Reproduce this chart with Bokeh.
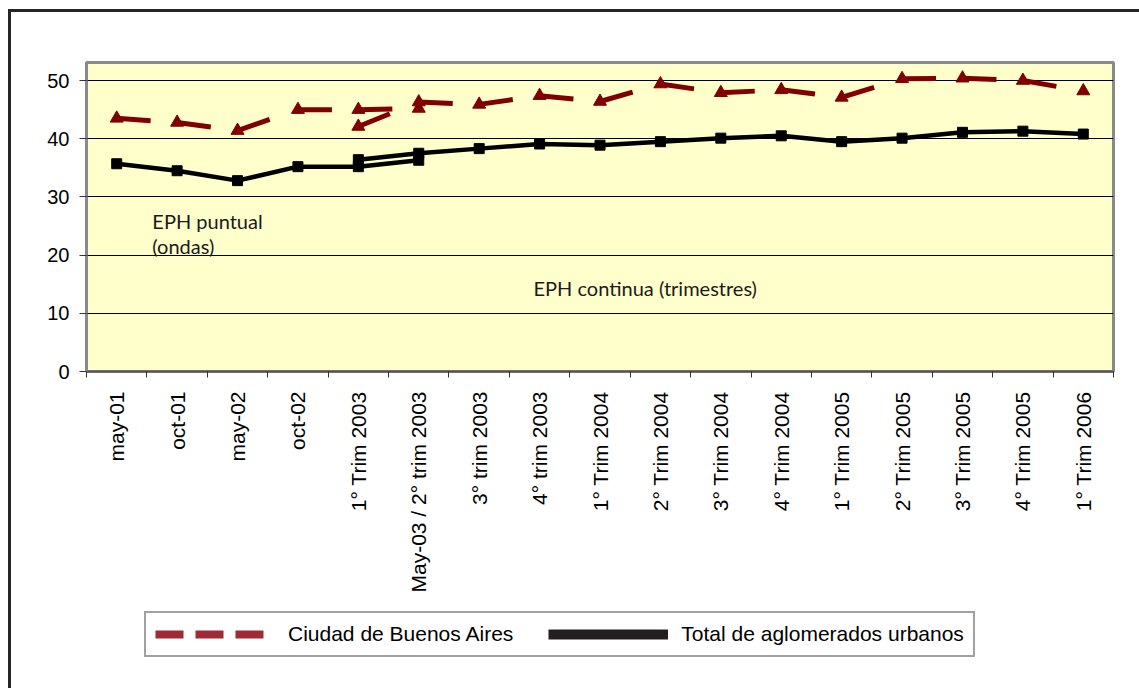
import math
from bokeh.plotting import figure
from bokeh.layouts import column
from bokeh.models import Range1d, FixedTicker, Legend, LegendItem, Label
from bokeh.embed import file_html
from bokeh.resources import INLINE

# ---------------- data ----------------
categories = [
    "may-01", "oct-01", "may-02", "oct-02", "1° Trim 2003",
    "May-03 / 2° trim 2003", "3° trim 2003", "4° trim 2003",
    "1° Trim 2004", "2° Trim 2004", "3° Trim 2004", "4° Trim 2004",
    "1° Trim 2005", "2° Trim 2005", "3° Trim 2005", "4° Trim 2005",
    "1° Trim 2006",
]
puntual_cats = categories[0:6]
continua_cats = categories[4:]

caba_puntual = [43.5, 42.8, 41.4, 45.0, 45.0, 45.2]
caba_continua = [42.1, 46.3, 45.9, 47.4, 46.4, 49.4, 47.9, 48.4, 47.1, 50.3, 50.4, 50.0, 48.2]
total_puntual = [35.7, 34.5, 32.8, 35.2, 35.2, 36.3]
total_continua = [36.4, 37.5, 38.3, 39.1, 38.9, 39.5, 40.1, 40.5, 39.5, 40.1, 41.1, 41.3, 40.8]

y_ticks = [0, 10, 20, 30, 40, 50]
legend_labels = ["Ciudad de Buenos Aires", "Total de aglomerados urbanos"]

RED = "#800000"
FONT = "Liberation Sans"


def pos(cats):
    return [categories.index(c) for c in cats]


p = figure(
    width=1128, height=590, output_backend="svg", toolbar_location=None,
    x_range=Range1d(-0.5, len(categories) - 0.5), y_range=Range1d(0, 53.1),
    min_border_left=75, min_border_top=50, min_border_right=26, min_border_bottom=231,
)
p.background_fill_color = "#FFFFCC"
p.border_fill_color = "white"
p.outline_line_color = "#8a8a8a"
p.outline_line_width = 3

# grid
p.xgrid.visible = False
p.ygrid.ticker = FixedTicker(ticks=y_ticks)
p.ygrid.grid_line_color = "black"
p.ygrid.grid_line_width = 1

# x axis
xa = p.xaxis[0]
xa.ticker = FixedTicker(ticks=list(range(len(categories))),
                        minor_ticks=[i - 0.5 for i in range(len(categories) + 1)])
xa.major_label_overrides = {i: c for i, c in enumerate(categories)}
xa.major_label_orientation = math.pi / 2
xa.major_tick_out = 0
xa.major_tick_in = 0
xa.minor_tick_out = 6
xa.minor_tick_in = 0
xa.minor_tick_line_color = "#333333"
xa.axis_line_color = "#555555"
xa.axis_line_width = 2
xa.major_label_standoff = 14
xa.major_label_text_font = FONT
xa.major_label_text_font_size = "21px"
xa.major_label_text_color = "black"

# y axis
ya = p.yaxis[0]
ya.ticker = FixedTicker(ticks=y_ticks)
ya.major_tick_out = 7
ya.major_tick_in = 0
ya.minor_tick_out = 0
ya.minor_tick_in = 0
ya.major_tick_line_color = "#333333"
ya.axis_line_color = "#8a8a8a"
ya.axis_line_width = 2
ya.major_label_standoff = 10
ya.major_label_text_font = FONT
ya.major_label_text_font_size = "20px"
ya.major_label_text_color = "black"

# ---------------- series ----------------
for cats, vals in [(puntual_cats, caba_puntual), (continua_cats, caba_continua)]:
    xs = pos(cats)
    p.segment(x0=xs[:-1], y0=vals[:-1], x1=xs[1:], y1=vals[1:],
              line_color=RED, line_width=5, line_dash="34 30")
    p.scatter(xs, vals, marker="triangle", size=13, fill_color=RED, line_color=RED)

for cats, vals in [(puntual_cats, total_puntual), (continua_cats, total_continua)]:
    xs = pos(cats)
    p.line(xs, vals, line_color="black", line_width=4.5)
    p.scatter(xs, vals, marker="square", size=10, fill_color="black", line_color="black")

# annotations
for txt, x, y in [("EPH puntual", 0.59, 25.9), ("(ondas)", 0.59, 21.65),
                  ("EPH continua (trimestres)", 6.90, 14.3)]:
    p.add_layout(Label(x=x, y=y, text=txt, text_font="Lato", text_font_size="20px",
                       text_color="#1a1a1a", text_baseline="alphabetic"))

# ---------------- legend (separate strip) ----------------
# The strip's ranges keep the series themselves out of view; only the legend shows.
q = figure(width=1128, height=86, output_backend="svg", toolbar_location=None,
           x_range=Range1d(-2, -1), y_range=Range1d(-2, -1),
           min_border_left=0, min_border_right=0, min_border_top=0, min_border_bottom=0)
q.axis.visible = False
q.grid.visible = False
q.outline_line_color = None
q.background_fill_color = "white"
q.border_fill_color = "white"

r1 = q.line(pos(continua_cats), caba_continua, line_color="#9E2A36", line_width=8,
            line_dash="28 12")
r2 = q.line(pos(continua_cats), total_continua, line_color="#231F20", line_width=10)
legend = Legend(
    items=[LegendItem(label=legend_labels[0], renderers=[r1]),
           LegendItem(label=legend_labels[1], renderers=[r2])],
    orientation="horizontal", location=(58, 31), margin=0,
    glyph_width=120, glyph_height=20, label_standoff=13, spacing=35, padding=9,
    border_line_color="#444444", border_line_width=2, background_fill_color="white",
    background_fill_alpha=1, label_text_font=FONT, label_text_font_size="21px",
    label_text_color="black",
)
q.add_layout(legend)

layout = column(p, q, spacing=0)
layout.styles = {"margin-top": "9px", "margin-left": "8px",
                 "border-top": "3px solid #262626", "border-left": "3px solid #262626"}

open("out.html", "w").write(file_html(layout, INLINE))
